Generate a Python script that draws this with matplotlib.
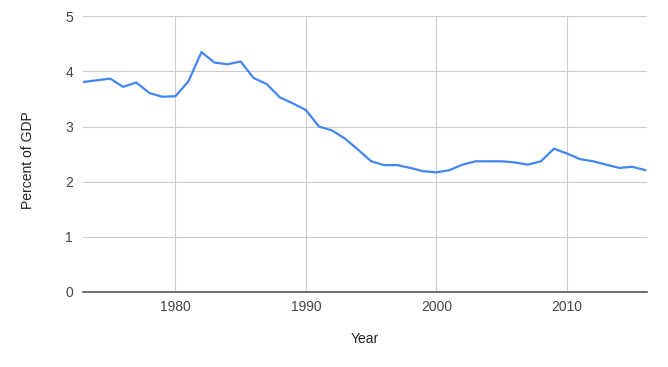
import numpy as np
import matplotlib.pyplot as plt

years = list(range(1973, 2017))
percent_gdp = [3.81, 3.84, 3.87, 3.72, 3.80, 3.61, 3.54, 3.55, 3.82, 4.35,
               4.16, 4.13, 4.18, 3.88, 3.77, 3.53, 3.42, 3.30, 3.00, 2.93,
               2.78, 2.58, 2.37, 2.30, 2.30, 2.25, 2.19, 2.17, 2.21, 2.31,
               2.37, 2.37, 2.37, 2.35, 2.31, 2.37, 2.60, 2.51, 2.41, 2.37,
               2.31, 2.25, 2.27, 2.21]
x_ticks = [1980, 1990, 2000, 2010]
y_ticks = [0, 1, 2, 3, 4, 5]

plt.rcParams['font.family'] = ['Liberation Sans', 'DejaVu Sans']

fig = plt.figure(figsize=(6.68, 3.67), dpi=100)
ax = fig.add_axes([0.1238, 0.2044, 0.968 - 0.1238, 0.9556 - 0.2044])

ax.plot(years, percent_gdp, color='#4285F4', linewidth=1.6, zorder=3)

ax.set_xlim(1972.9, 2016.1)
ax.set_ylim(0, 5)
ax.set_xticks(x_ticks)
ax.set_yticks(y_ticks)
ax.grid(True, color='#cccccc', linewidth=0.8)
ax.set_axisbelow(True)

for s in ['top', 'right', 'left']:
    ax.spines[s].set_visible(False)
ax.spines['bottom'].set_color('#555555')
ax.spines['bottom'].set_linewidth(1.2)
ax.spines['bottom'].set_zorder(4)

ax.tick_params(length=0, labelsize=10, colors='#444444')
ax.tick_params(axis='y', pad=7)
ax.tick_params(axis='x', pad=6)

ax.set_xlabel('Year', fontsize=10, color='#222222', va='center')
ax.set_ylabel('Percent of GDP', fontsize=10, color='#222222', va='center')
ax.xaxis.set_label_coords(0.5005, -0.170)
ax.yaxis.set_label_coords(-0.097, 0.479)

fig.savefig('out.png', dpi=100)
